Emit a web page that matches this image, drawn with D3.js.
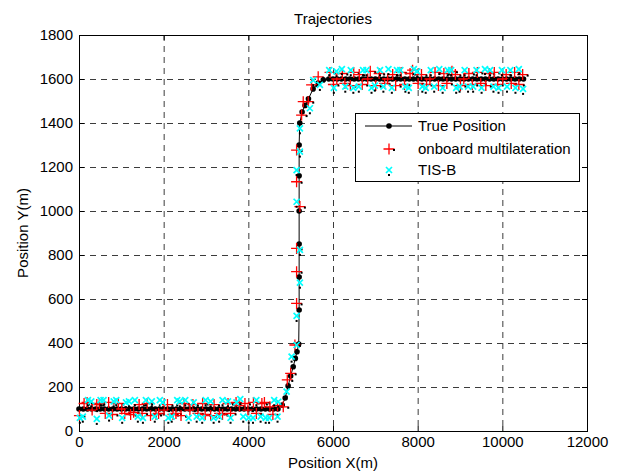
<!DOCTYPE html>
<html>
<head>
<meta charset="utf-8">
<script src="https://cdn.jsdelivr.net/npm/d3@7"></script>
<style>
  body { margin: 0; background: #fff; }
  text { font-family: "Liberation Sans", Arial, Helvetica, sans-serif; }
</style>
</head>
<body>
<div id="chart"></div>
<script>
// True trajectory (m)
const trueX = [0,100,200,300,400,500,600,700,800,900,1000,1100,1200,1300,1400,1500,1600,1700,1800,1900,2000,2100,2200,2300,2400,2500,2600,2700,2800,2900,3000,3100,3200,3300,3400,3500,3600,3700,3800,3900,4000,4100,4200,4300,4400,4500,4600,4700,
  4800,4870,4940,5000,5060,5110,5150,5190,
  5200,5200,5200,5200,5200,5200,
  5215,5270,5340,5420,5530,5650,5770,
  5900,6000,6100,6200,6300,6400,6500,6600,6700,6800,6900,7000,7100,7200,7300,7400,7500,7600,7700,7800,7900,8000,8100,8200,8300,8400,8500,8600,8700,8800,8900,9000,9100,9200,9300,9400,9500,9600,9700,9800,9900,10000,10100,10200,10300,10400,10500];
const trueY = [100,100,100,100,100,100,100,100,100,100,100,100,100,100,100,100,100,100,100,100,100,100,100,100,100,100,100,100,100,100,100,100,100,100,100,100,100,100,100,100,100,100,100,100,100,100,100,100,
  118,150,205,250,292,330,360,395,
  550,700,850,1000,1160,1300,
  1400,1450,1480,1510,1555,1582,1596,
  1600,1600,1600,1600,1600,1600,1600,1600,1600,1600,1600,1600,1600,1600,1600,1600,1600,1600,1600,1600,1600,1600,1600,1600,1600,1600,1600,1600,1600,1600,1600,1600,1600,1600,1600,1600,1600,1600,1600,1600,1600,1600,1600,1600,1600,1600,1600];

// onboard multilateration [x, y]
const mlatPts = [
  [10,70],[120,125],[190,130],[310,95],[420,120],[480,125],[620,80],[700,130],[790,75],[930,125],[1010,100],[1080,80],[1220,75],[1290,85],[1420,120],[1490,80],[1610,125],[1690,70],[1820,75],[1880,80],[2010,95],[2090,120],[2220,75],[2290,80],[2410,70],[2480,125],[2620,95],[2690,120],[2810,80],[2920,125],[2980,75],[3110,70],[3190,120],[3320,80],[3390,75],[3520,125],[3580,80],[3710,130],[3790,115],[3920,125],[3990,95],[4120,130],[4190,80],[4320,125],[4380,130],[4510,110],[4580,75],[4690,115],
  [4825,110],[4920,232],[5000,262],[5100,391],[5140,580],[5140,724],[5140,830],[5218,1020],[5140,1133],[5140,1277],[5258,1436],[5297,1497],[5415,1497],[5494,1573],[5650,1610],
  [5930,1630],[6010,1575],[6090,1600],[6220,1625],[6280,1580],[6410,1570],[6490,1630],[6620,1620],[6690,1575],[6820,1600],[6880,1635],[7010,1570],[7090,1625],[7220,1580],[7290,1600],[7410,1620],[7480,1570],[7610,1630],[7690,1575],[7820,1625],[7880,1640],[8010,1580],[8090,1620],[8210,1575],[8290,1600],[8410,1630],[8490,1570],[8620,1625],[8690,1580],[8810,1635],[8890,1620],[9010,1570],[9090,1600],[9210,1625],[9290,1575],[9410,1630],[9490,1580],[9610,1570],[9690,1625],[9810,1630],[9890,1575],[10010,1600],[10090,1620],[10210,1580],[10290,1630],[10390,1575],[10480,1620]
];

// TIS-B [x, y]
const tisPts = [
  [20,60],[90,65],[210,140],[290,135],[420,55],[510,140],[580,140],[710,70],[820,135],[880,140],[1020,60],[1110,130],[1180,135],[1320,140],[1390,65],[1510,60],[1580,140],[1720,135],[1790,65],[1910,140],[1980,130],[2110,60],[2190,65],[2320,140],[2380,135],[2510,140],[2590,60],[2710,130],[2780,65],[2910,60],[2990,140],[3110,135],[3180,60],[3310,65],[3390,140],[3520,135],[3580,60],[3720,130],[3810,145],[3880,65],[4010,60],[4110,60],[4190,140],[4290,65],[4410,60],[4490,60],[4610,140],[4690,65],
  [4706,133],[4904,179],[5022,338],[5140,391],[5140,523],[5218,674],[5218,823],[5140,1042],[5140,1186],[5218,1270],[5218,1376],[5454,1467],[5533,1595],[5690,1573],
  [5910,1640],[6020,1560],[6080,1635],[6210,1645],[6290,1565],[6420,1640],[6480,1560],[6610,1565],[6710,1640],[6790,1640],[6910,1560],[6990,1570],[7110,1640],[7190,1565],[7310,1645],[7390,1560],[7510,1640],[7590,1640],[7710,1565],[7790,1560],[7910,1645],[7990,1635],[8110,1565],[8190,1560],[8310,1640],[8390,1565],[8510,1645],[8590,1560],[8710,1640],[8790,1640],[8910,1560],[8990,1565],[9110,1640],[9190,1565],[9310,1565],[9390,1640],[9510,1560],[9590,1645],[9710,1640],[9790,1565],[9910,1560],[9990,1640],[10110,1565],[10190,1640],[10310,1560],[10390,1645],[10490,1555]
];

const xTicks = [0,2000,4000,6000,8000,10000,12000];
const yTicks = [0,200,400,600,800,1000,1200,1400,1600,1800];
const legendLabels = ["True Position", "onboard multilateration", "TIS-B"];

const width = 623, height = 472;
const mLeft = 79, mRight = 587, mTop = 35, mBottom = 431;

const svg = d3.select("#chart").append("svg")
  .attr("width", width)
  .attr("height", height);
svg.append("rect").attr("width", width).attr("height", height).attr("fill", "#fff");

const x = d3.scaleLinear().domain([0, 12000]).range([mLeft, mRight]);
const y = d3.scaleLinear().domain([0, 1800]).range([mBottom, mTop]);

// grid
const grid = svg.append("g").attr("stroke", "#3c3c3c").attr("stroke-dasharray", "6,5").attr("stroke-width", 1);
xTicks.slice(1, -1).forEach(t => {
  grid.append("line").attr("x1", x(t) + 0.5).attr("x2", x(t) + 0.5).attr("y1", mTop).attr("y2", mBottom);
});
yTicks.slice(1, -1).forEach(t => {
  grid.append("line").attr("y1", y(t) + 0.5).attr("y2", y(t) + 0.5).attr("x1", mLeft).attr("x2", mRight);
});

// axes (ticks inside, like matlab)
const fontSize = 15;
const xAxis = svg.append("g").attr("transform", `translate(0,${mBottom})`)
  .call(d3.axisBottom(x).tickValues(xTicks).tickSize(-5).tickPadding(5).tickFormat(d3.format("d")));
const yAxis = svg.append("g").attr("transform", `translate(${mLeft},0)`)
  .call(d3.axisLeft(y).tickValues(yTicks).tickSize(-5).tickPadding(6).tickFormat(d3.format("d")));
svg.append("g").attr("transform", `translate(0,${mTop})`)
  .call(d3.axisTop(x).tickValues(xTicks).tickSize(-5).tickFormat(""));
svg.append("g").attr("transform", `translate(${mRight},0)`)
  .call(d3.axisRight(y).tickValues(yTicks).tickSize(-5).tickFormat(""));
svg.selectAll(".domain").remove();
svg.selectAll(".tick line").attr("stroke", "#000");
[xAxis, yAxis].forEach(a => a.selectAll("text")
  .attr("font-size", fontSize).attr("fill", "#000")
  .style("font-family", '"Liberation Sans", Arial, sans-serif'));

svg.append("rect")
  .attr("x", mLeft + 0.5).attr("y", mTop + 0.5)
  .attr("width", mRight - mLeft).attr("height", mBottom - mTop)
  .attr("fill", "none").attr("stroke", "#000").attr("stroke-width", 1);

// titles
svg.append("text").attr("x", (mLeft + mRight) / 2).attr("y", 24)
  .attr("text-anchor", "middle").attr("font-size", fontSize).text("Trajectories");
svg.append("text").attr("x", (mLeft + mRight) / 2).attr("y", 468)
  .attr("text-anchor", "middle").attr("font-size", fontSize).text("Position X(m)");
svg.append("text").attr("transform", `translate(28,${(mTop + mBottom) / 2}) rotate(-90)`)
  .attr("text-anchor", "middle").attr("font-size", fontSize).text("Position Y(m)");

// marker helpers
function drawDot(g, cx, cy) {
  g.append("circle").attr("cx", cx).attr("cy", cy).attr("r", 2.8).attr("fill", "#000");
}
function drawPlus(g, cx, cy) {
  g.append("path").attr("d", `M${cx - 5.5},${cy}H${cx + 5.5}M${cx},${cy - 5.5}V${cy + 5.5}`)
    .attr("stroke", "#ff0000").attr("stroke-width", 1.3).attr("fill", "none");
  g.append("rect").attr("x", cx + 4).attr("y", cy).attr("width", 2).attr("height", 2).attr("fill", "#000");
}
function drawCross(g, cx, cy) {
  g.append("path").attr("d", `M${cx - 3},${cy - 3}L${cx + 3},${cy + 3}M${cx - 3},${cy + 3}L${cx + 3},${cy - 3}`)
    .attr("stroke", "#00ffff").attr("stroke-width", 1.7).attr("fill", "none");
  g.append("rect").attr("x", cx - 1).attr("y", cy + 4).attr("width", 2).attr("height", 2).attr("fill", "#000");
}

// true position
const truePts = trueX.map((v, i) => [v, trueY[i]]);
const gTrue = svg.append("g");
gTrue.append("path").datum(truePts)
  .attr("d", d3.line().x(d => x(d[0])).y(d => y(d[1])))
  .attr("fill", "none").attr("stroke", "#000").attr("stroke-width", 1);
truePts.forEach(d => drawDot(gTrue, x(d[0]), y(d[1])));

const gMlat = svg.append("g");
mlatPts.forEach(d => drawPlus(gMlat, x(d[0]), y(d[1])));
const gTis = svg.append("g");
tisPts.forEach(d => drawCross(gTis, x(d[0]), y(d[1])));

// legend
const lg = svg.append("g");
lg.append("rect").attr("x", 355.5).attr("y", 113.5).attr("width", 224).attr("height", 68)
  .attr("fill", "#fff").attr("stroke", "#000").attr("stroke-width", 1);
const rows = [126, 149, 170];
lg.append("line").attr("x1", 365).attr("x2", 412).attr("y1", rows[0]).attr("y2", rows[0])
  .attr("stroke", "#000").attr("stroke-width", 1);
drawDot(lg, 389, rows[0]);
drawPlus(lg, 389, rows[1]);
drawCross(lg, 389, rows[2]);
legendLabels.forEach((t, i) => {
  lg.append("text").attr("x", 418).attr("y", rows[i] + 5).attr("font-size", fontSize).text(t);
});
</script>
</body>
</html>
